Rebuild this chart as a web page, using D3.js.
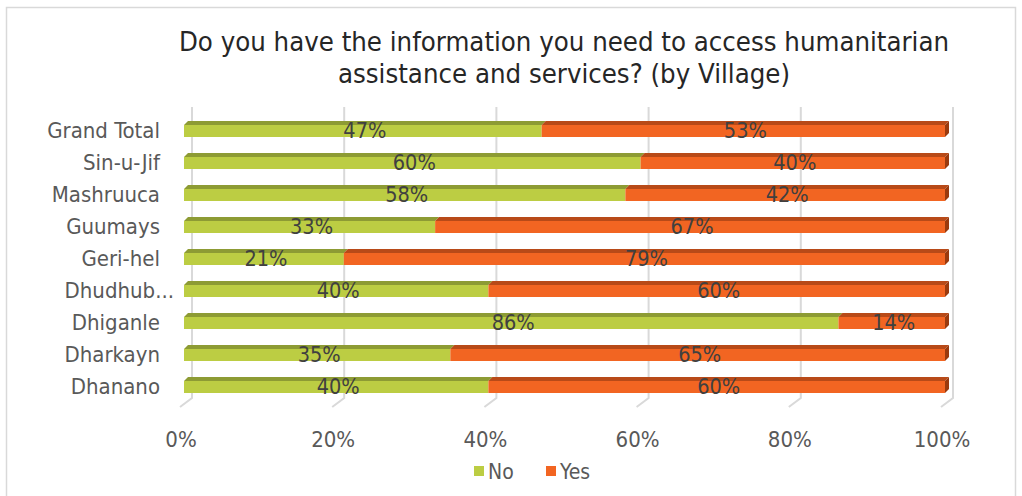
<!DOCTYPE html>
<html><head><meta charset="utf-8">
<script src="https://cdn.jsdelivr.net/npm/d3@7"></script>
<style>html,body{margin:0;padding:0;background:#fff;}svg{display:block;}</style>
</head><body>
<svg id="chart" width="1022" height="496"></svg>
<script>
const categories = ["Grand Total","Sin-u-Jif","Mashruuca","Guumays","Geri-hel","Dhudhub...","Dhiganle","Dharkayn","Dhanano"];
const noValues  = [47,60,58,33,21,40,86,35,40];
const yesValues = [53,40,42,67,79,60,14,65,60];
const tickValues = [0,20,40,60,80,100];
const seriesNames = ["No","Yes"];
const titleLines = ["Do you have the information you need to access humanitarian","assistance and services? (by Village)"];

const FONT = "'DejaVu Sans Condensed',sans-serif";
const svg = d3.select("#chart");
const colors = {No:{front:"#BCCD43",top:"#8D9B34"}, Yes:{front:"#F26522",top:"#B84A18",side:"#9A3A0E"}};

// border
svg.append("rect").attr("x",6.5).attr("y",7.5).attr("width",1009).attr("height",500)
  .attr("fill","none").attr("stroke","#D9D9D9").attr("stroke-width",1.5);

// title
svg.append("g").selectAll("text").data(titleLines).join("text")
  .attr("x",564).attr("y",(d,i)=>51+i*32).attr("text-anchor","middle")
  .attr("font-family",FONT).attr("font-size",27.3).attr("fill","#262626").text(d=>d);

const x = d3.scaleLinear().domain([0,100]).range([184,945]);
const y = d3.scalePoint().domain(categories).range([131,387]);
const DX = 8, TOP = 107, FLOOR = 398;

// gridlines (back wall) and floor
const grid = svg.append("g").attr("stroke","#D9D9D9").attr("stroke-width",2).attr("fill","none");
tickValues.forEach(v=>{
  grid.append("path").attr("d",`M${x(v)+DX},${TOP}V${FLOOR}L${x(v)-4},${FLOOR+9}`);
});

// axis labels
svg.append("g").selectAll("text").data(tickValues).join("text")
  .attr("x",v=>x(v)-3).attr("y",447).attr("text-anchor","middle")
  .attr("font-family",FONT).attr("font-size",22).attr("fill","#595959").text(v=>v+"%");

// category labels
svg.append("g").selectAll("text").data(categories).join("text")
  .attr("x",c=>c.endsWith("...")?174:160).attr("y",c=>y(c)+7).attr("text-anchor","end")
  .attr("font-family",FONT).attr("font-size",22).attr("fill","#595959").text(c=>c);

// bars
const H = 12, dx = 4, dy = -4;
const rows = svg.append("g");
categories.forEach((c,i)=>{
  const yc = y(c), y0 = yc - H/2;
  const segs = [{name:"No",a:0,b:noValues[i]},{name:"Yes",a:noValues[i],b:noValues[i]+yesValues[i]}];
  segs.forEach(s=>{
    const x0 = x(s.a), x1 = x(s.b);
    rows.append("path").attr("d",`M${x0},${y0}L${x0+dx},${y0+dy}L${x1+dx},${y0+dy}L${x1},${y0}Z`)
      .attr("fill",colors[s.name].top);
    rows.append("rect").attr("x",x0).attr("y",y0).attr("width",x1-x0).attr("height",H)
      .attr("fill",colors[s.name].front);
  });
  const xe = x(100);
  rows.append("path").attr("d",`M${xe},${y0}L${xe+dx},${y0+dy}L${xe+dx},${y0+dy+H}L${xe},${y0+H}Z`)
    .attr("fill",colors.Yes.side);
  segs.forEach(s=>{
    rows.append("text").attr("x",(x(s.a)+x(s.b))/2+2).attr("y",yc+7).attr("text-anchor","middle")
      .attr("font-family",FONT).attr("font-size",21.5).attr("fill","#404040").text((s.b-s.a)+"%");
  });
});

// legend
const lg = svg.append("g");
const legendX = [474,546];
seriesNames.forEach((n,i)=>{
  lg.append("rect").attr("x",legendX[i]).attr("y",466).attr("width",10).attr("height",10).attr("fill",colors[n].front);
  lg.append("text").attr("x",legendX[i]+14).attr("y",479).attr("font-family",FONT).attr("font-size",21)
    .attr("fill","#595959").text(n);
});
</script>
</body></html>
